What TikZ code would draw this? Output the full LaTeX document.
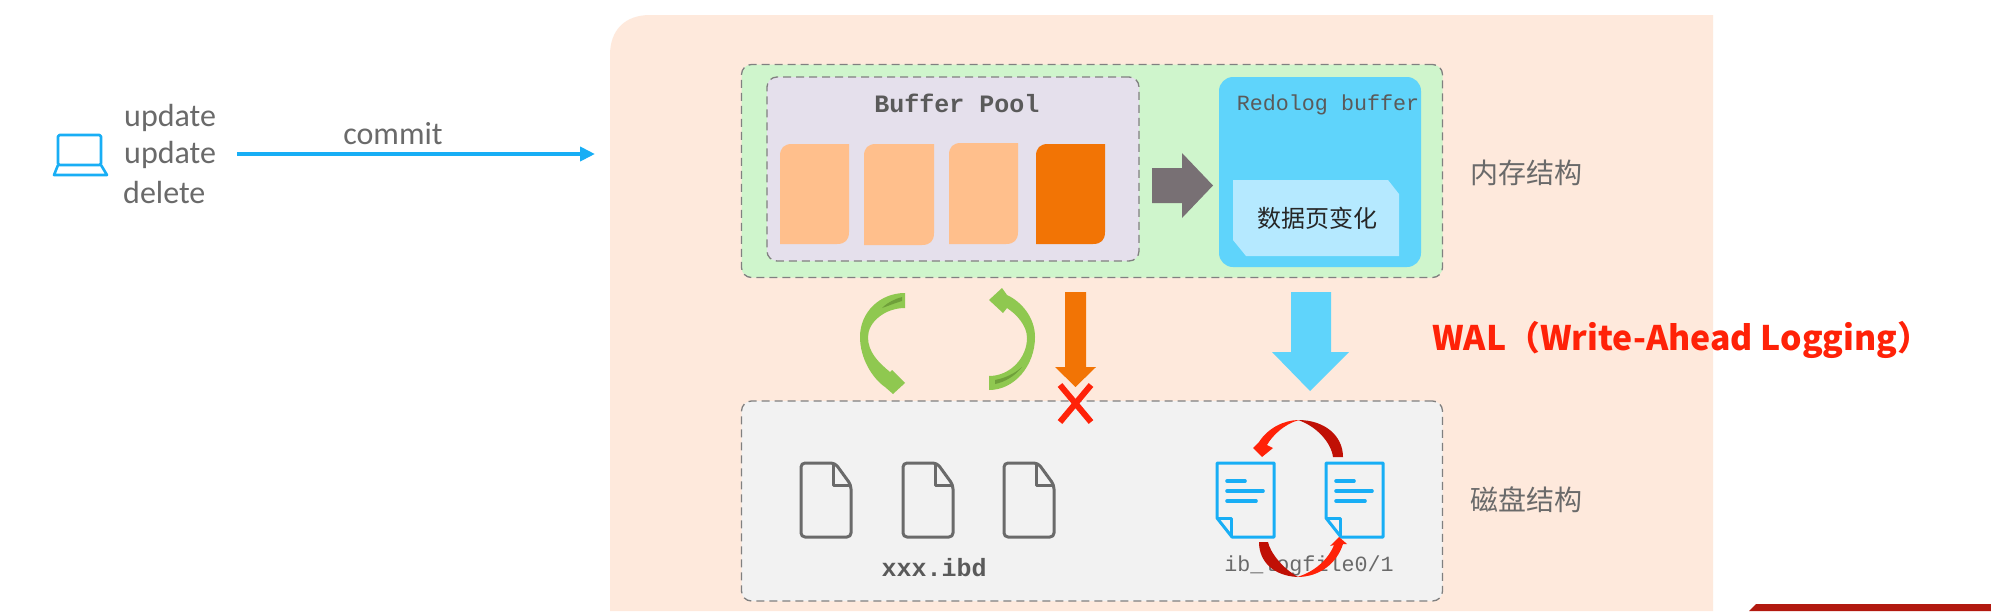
\documentclass[tikz,border=0pt]{standalone}
\usepackage{fontspec}
\setmainfont{Carlito}
\newfontfamily\cjkfont{Noto Sans CJK SC}
\newfontfamily\codefont{Liberation Mono}
\usetikzlibrary{arrows.meta,calc}
\definecolor{peachbg}{HTML}{FEE9DC}
\definecolor{memgreen}{HTML}{CFF5CC}
\definecolor{poolbg}{HTML}{E5E0EC}
\definecolor{pagelight}{HTML}{FFBF8C}
\definecolor{pageorange}{HTML}{F27405}
\definecolor{redoblue}{HTML}{5FD4FB}
\definecolor{redolight}{HTML}{B5E9FF}
\definecolor{diskbg}{HTML}{F2F2F2}
\definecolor{dashgray}{HTML}{808080}
\definecolor{txtgray}{HTML}{6A6A6A}
\definecolor{arrowgray}{HTML}{787074}
\definecolor{linkblue}{HTML}{18AEF5}
\definecolor{leafgreen}{HTML}{8FC850}
\definecolor{leafdark}{HTML}{6FA03A}
\definecolor{hotred}{HTML}{FF2208}
\definecolor{deepred}{HTML}{C01005}
\definecolor{cornerred}{HTML}{B2190F}
\newcommand{\pageshape}[5]{%
  \fill[#5] (#1,#4) -- (#1,#2+12) .. controls (#1,#2+4) and (#1+4,#2) .. (#1+12,#2)
    -- (#3,#2) -- (#3,#4-12) .. controls (#3,#4-4) and (#3-4,#4) .. (#3-12,#4) -- cycle;}
\tikzset{
  region/.style={draw=dashgray,line width=1.3pt,dash pattern=on 8pt off 5pt,rounded corners=10pt,inner sep=0pt},
  label/.style={text=txtgray,inner sep=0pt,font=\fontsize{32}{32}\selectfont},
  cjklabel/.style={text=txtgray,inner sep=0pt,font=\cjkfont\fontsize{28}{28}\selectfont},
  codebold/.style={text=txtgray!85!black,inner sep=0pt,font=\codefont\bfseries\fontsize{25}{25}\selectfont},
  codeplain/.style={text=txtgray,inner sep=0pt,font=\codefont\fontsize{21.7}{21.7}\selectfont},
  grayfile/.pic={
    \draw[draw=txtgray,line width=3pt,line join=round,rounded corners=4pt] (0,0) -- (34,0) -- (50,22) -- (50,74) -- (0,74) -- cycle;
    \draw[draw=txtgray,line width=3pt,line join=round] (32,0) -- (32,22) -- (50,22);
  },
  bluedoc/.pic={
    \draw[draw=linkblue,line width=3pt,line join=round] (0,0) -- (57,0) -- (57,74) -- (15,74) -- (0,55) -- cycle;
    \draw[draw=linkblue,line width=3pt,line join=round] (0,55) -- (14,55) -- (14,74);
    \draw[draw=linkblue,line width=3.6pt,line cap=round] (10,18) -- (28,18) (10,28) -- (46,28) (10,38) -- (39,38);
  }
}
\begin{document}
\begin{tikzpicture}[x=1pt,y=-1pt]
\useasboundingbox (0,0) rectangle (1991,611);
\fill[white] (0,0) rectangle (1991,611);
% peach panel
\fill[peachbg] (610,611) -- (610,55) .. controls (610,30) and (625,15) .. (650,15) -- (1713,15) -- (1713,611) -- cycle;
% corner
\fill[cornerred] (1749,611) -- (1756,604) -- (1991,604) -- (1991,611) -- cycle;

% client
\draw[linkblue,line width=2.6pt,line join=round,rounded corners=1.5pt] (58,165) -- (58,135) -- (101,135) -- (101,165) -- cycle;
\draw[linkblue,line width=2.6pt,line join=round] (58,165) -- (54,175) -- (107,175) -- (101,165);
\node[label,anchor=west] (upa) at (124,118) {update};
\node[label,anchor=west] (upb) at (124,155) {update};
\node[label,anchor=west] (del) at (123,193) {delete};
\coordinate (commitstart) at (237,154);
\coordinate (commitend) at (595,154);
\draw[linkblue,line width=4pt,-{Triangle[length=15pt,width=14pt]}] (commitstart) -- (commitend);
\node[label] (commit) at (393,134) {commit};

% memory
\node[region,fill=memgreen,minimum width=701pt,minimum height=213pt] (mem) at (1092,171) {};
\node[region,fill=poolbg,minimum width=372pt,minimum height=184pt] (pool) at (953,169) {};
\node[codebold] (pooltitle) at (957,103) {Buffer Pool};
\pageshape{780}{144}{849}{244}{pagelight}
\pageshape{864}{144}{934}{245}{pagelight}
\pageshape{949}{143}{1018}{244}{pagelight}
\pageshape{1036}{144}{1105}{244}{pageorange}
\fill[arrowgray] (1152,168) -- (1182,168) -- (1182,153) -- (1213,185.5) -- (1182,218) -- (1182,203) -- (1152,203) -- cycle;
\node[fill=redoblue,rounded corners=14pt,inner sep=0pt,minimum width=202pt,minimum height=190pt] (redo) at (1320,172) {};
\node[codeplain,text=txtgray!85!black] (redotitle) at (1328,105) {Redolog buffer};
\fill[redolight] (1233,180) -- (1388,180) -- (1399,194) -- (1399,256) -- (1246,256) -- (1233,240) -- cycle;
\node[inner sep=0pt,text=black!85,font=\cjkfont\fontsize{24}{24}\selectfont] (change) at (1317,218) {数据页变化};
\node[cjklabel] (memlabel) at (1526,173) {内存结构};

% disk
\node[region,fill=diskbg,minimum width=701pt,minimum height=200pt] (disk) at (1092,501) {};
\node[cjklabel] (disklabel) at (1526,500) {磁盘结构};

% green cycle arrows
\fill[leafgreen] (905,293) .. controls (880,293) and (860,312) .. (860,337)
  .. controls (860,358) and (872,378) .. (885,387) -- (893,394) -- (905,383) -- (892,370) -- (890,372)
  .. controls (878,362) and (868,352) .. (868,337) .. controls (868,322) and (885,308) .. (905,308) -- cycle;
\fill[leafdark] (902,297) .. controls (895,299) and (888,302) .. (882,308) .. controls (888,306) and (895,303) .. (902,301) -- cycle;
\fill[leafgreen] (989,390) .. controls (1015,390) and (1035,365) .. (1035,337)
  .. controls (1035,318) and (1022,302) .. (1007,295) -- (1002,288) -- (989,300) -- (1003,313) -- (1007,308)
  .. controls (1016,314) and (1027,325) .. (1027,338) .. controls (1027,358) and (1010,376) .. (989,376) -- cycle;
\fill[leafdark] (995,384) .. controls (1005,382) and (1015,376) .. (1022,367) .. controls (1014,374) and (1005,378) .. (995,380) -- cycle;

% orange arrow, blue arrow
\fill[pageorange] (1065,292) -- (1086,292) -- (1086,367) -- (1096,367) -- (1075.5,387) -- (1055,367) -- (1065,367) -- cycle;
\draw[hotred,line width=6pt] (1060,385) -- (1091,422) (1091,385) -- (1060,422);
\fill[redoblue] (1291,292) -- (1331,292) -- (1331,352) -- (1349,352) -- (1310,391) -- (1272,352) -- (1291,352) -- cycle;

% files
\pic at (801,463) {grayfile};
\pic at (903,463) {grayfile};
\pic at (1004,463) {grayfile};
\node[codebold] (ibd) at (934,568) {xxx.ibd};
\pic at (1217,463) {bluedoc};
\pic at (1326,463) {bluedoc};
\node[codeplain] (logfile) at (1309,566) {ib\_logfile0/1};

% red cycle arrows
\fill[deepred] (1298,420) .. controls (1325,420) and (1343,436) .. (1343,457) -- (1333,457) .. controls (1331,442) and (1316,426) .. (1298,420) -- cycle;
\fill[hotred] (1299,420) .. controls (1284,420) and (1268,428) .. (1259,442) -- (1253,448) -- (1262,457) -- (1273,448) -- (1267,445) .. controls (1272,436) and (1284,424) .. (1299,420) -- cycle;
\fill[deepred] (1298,577) .. controls (1274,576) and (1259,562) .. (1259,542) -- (1268,542) .. controls (1270,552) and (1282,568) .. (1298,577) -- cycle;
\fill[hotred] (1297,577) .. controls (1320,577) and (1337,563) .. (1343,544) -- (1347,544) -- (1339,537) -- (1330,546) -- (1334,545) .. controls (1328,560) and (1314,572) .. (1297,577) -- cycle;

% WAL
\node[inner sep=0pt,anchor=west,text=hotred,font=\cjkfont\bfseries\fontsize{33.8}{33.8}\selectfont] (wal) at (1432,340) {WAL（Write-Ahead Logging）};
\end{tikzpicture}
\end{document}
